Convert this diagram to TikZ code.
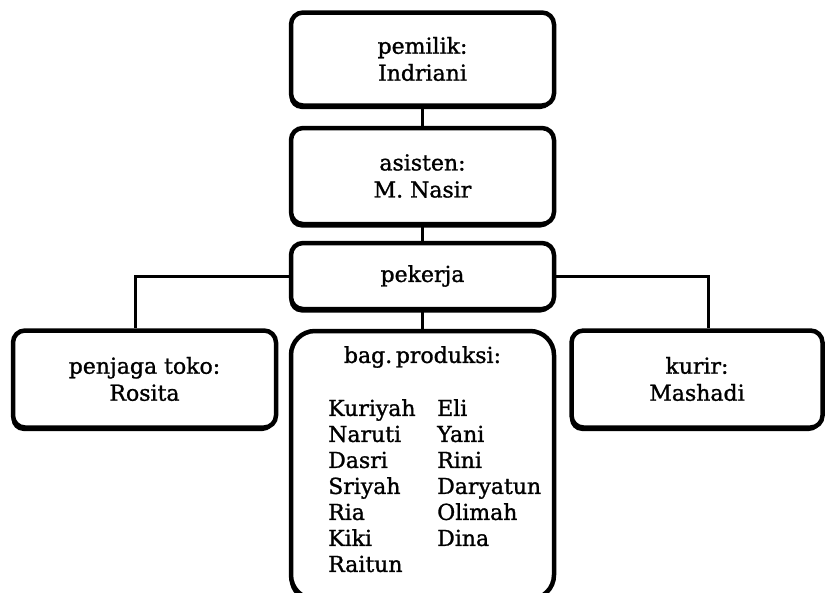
\documentclass[tikz,border=0pt]{standalone}
\usepackage{fontspec}
\setmainfont[RawFeature={embolden=1.2}]{DejaVu Serif}
\usetikzlibrary{shadows}

\begin{document}
\begin{tikzpicture}[x=1pt, y=-1pt,
    kotak/.style={draw, line width=4.5pt, fill=white, rounded corners=12pt,
        minimum width=263pt, align=center, font=\fontsize{22}{27}\selectfont,
        drop shadow={shadow xshift=-1.5pt, shadow yshift=-3.5pt, fill=black, opacity=1}},
    garis/.style={line width=3pt},
    nama/.style={anchor=north west, align=left, inner sep=0pt, font=\fontsize{22}{26}\selectfont}]
                \useasboundingbox (0,0) rectangle (825,592);
                \clip (0,0) rectangle (825,592);
                % Top levels
                \node[kotak, minimum height=93pt] (pemilik) at (422.5, 59) {pemilik:\\Indriani};
                \node[kotak, minimum height=96pt] (asisten) at (422.5, 176) {asisten:\\M. Nasir};
                \node[kotak, minimum height=66pt] (pekerja) at (422.5, 276) {pekerja};

                % Workers
                \node[kotak, minimum height=97pt] (penjaga) at (144.5, 379) {penjaga toko:\\Rosita};
                \node[kotak, minimum height=97pt, minimum width=251pt] (kurir) at (697, 379) {kurir:\\Mashadi};
                \node[kotak, minimum height=268pt, rounded corners=24pt] (produksi) at (422.5, 465) {};
                \node[font=\fontsize{22}{27}\selectfont] (judul) at (422.5, 357) {bag.\,produksi:};
                \node[nama] (kiri) at (328, 399) {Kuriyah\\Naruti\\Dasri\\Sriyah\\Ria\\Kiki\\Raitun};
                \node[nama] (kanan) at (437, 399) {Eli\\Yani\\Rini\\Daryatun\\Olimah\\Dina};

                % Connectors
                \draw[garis] (pemilik) -- (asisten);
                \draw[garis] (asisten) -- (pekerja);
                \draw[garis] (pekerja) -- (produksi);
                \draw[garis] (pekerja.west) -| ([xshift=-9.5pt]penjaga.north);
                \draw[garis] (pekerja.east) -| ([xshift=11pt]kurir.north);
            \end{tikzpicture}
\end{document}
